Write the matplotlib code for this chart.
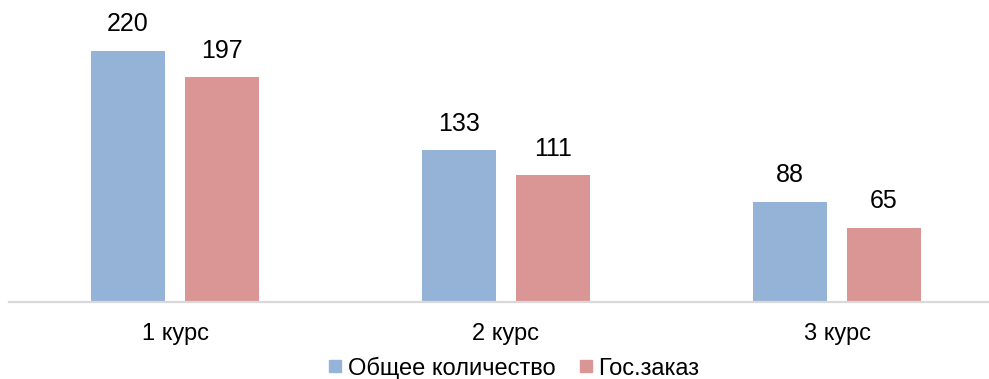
import matplotlib
matplotlib.use("Agg")
import matplotlib.pyplot as plt
from matplotlib.lines import Line2D
import numpy as np

categories = ["1 курс", "2 курс", "3 курс"]
total = [220, 133, 88]
state_order = [197, 111, 65]
series_names = ["Общее количество", "Гос.заказ"]
colors = ["#95B3D7", "#D99694"]

plt.rcParams['font.family'] = ['Liberation Sans', 'DejaVu Sans']

W, H = 989, 379
fig = plt.figure(figsize=(W / 100, H / 100), dpi=100)
base_px = 302
ax = fig.add_axes([9 / W, (H - base_px) / H, (989 - 9) / W, base_px / H])

x = np.arange(len(categories))
bw = 74 / 331
off = 47 / 331
b1 = ax.bar(x - off, total, bw, color=colors[0], zorder=2)
b2 = ax.bar(x + off, state_order, bw, color=colors[1], zorder=2)

for bars, vals in ((b1, total), (b2, state_order)):
    for r, v in zip(bars, vals):
        ax.annotate(str(v), (r.get_x() + r.get_width() / 2, v),
                    xytext=(0, 10.5), textcoords="offset points",
                    ha="center", va="bottom", fontsize=18, color="#000000")

xmin = -(175 - 9) / 331
ax.set_xlim(xmin, xmin + 980 / 331)
ax.set_ylim(0, base_px / 1.141)

for s in ("top", "right", "left"):
    ax.spines[s].set_visible(False)
ax.spines["bottom"].set_color("#D9D9D9")
ax.spines["bottom"].set_linewidth(1.6)
ax.set_yticks([])
ax.set_xticks(x)
ax.set_xticklabels(categories, fontsize=17)
ax.tick_params(axis="x", length=0, pad=15)

handles = [Line2D([], [], marker="s", linestyle="none", markersize=9,
                  markerfacecolor=c, markeredgecolor=c) for c in colors]
fig.legend(handles, series_names, loc="center", bbox_to_anchor=(514 / W, 1 - 368 / H),
           ncol=2, frameon=False, fontsize=17, handlelength=0.55,
           handletextpad=0.25, columnspacing=1.0, borderaxespad=0)

fig.savefig("out.png", dpi=100)
